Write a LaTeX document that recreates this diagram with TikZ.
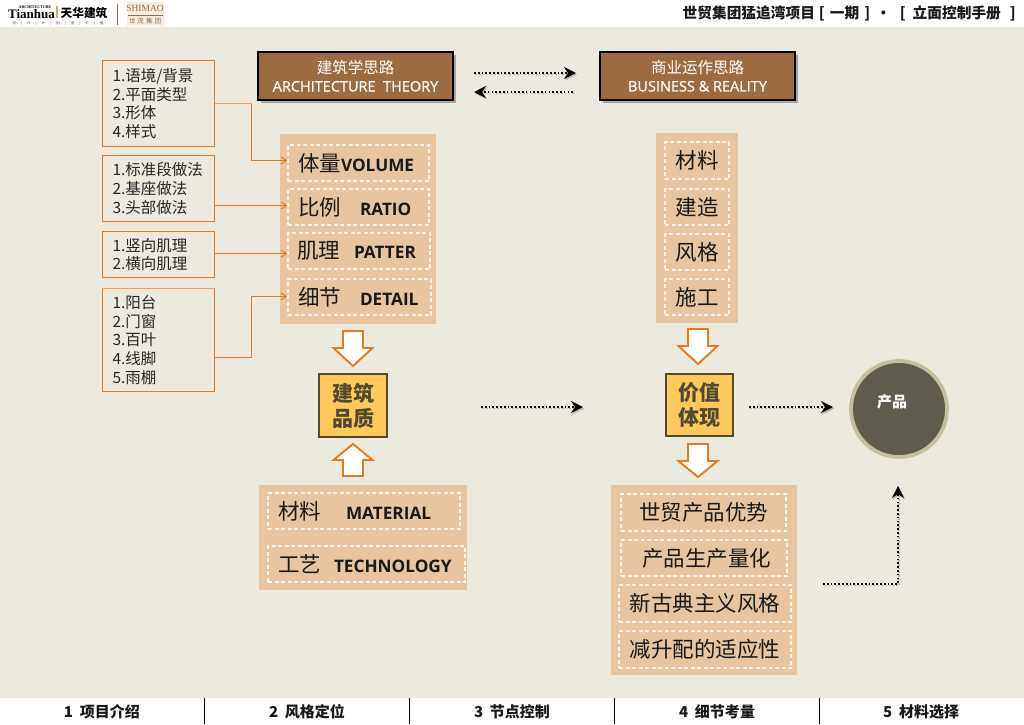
\documentclass[tikz,border=0pt]{standalone}
\usepackage{fontspec}
\setmainfont{Noto Sans CJK SC}
\newfontfamily\enf{Open Sans}
\newfontfamily\enm[FakeBold=0.6]{Open Sans}
\newfontfamily\tailf{Liberation Serif}
\usetikzlibrary{arrows.meta,calc}
\definecolor{bg}{HTML}{ECE9DF}
\definecolor{brownbox}{HTML}{9C6B42}
\definecolor{panel}{HTML}{E8C4A0}
\definecolor{orangeline}{HTML}{E67A1C}
\definecolor{paleline}{HTML}{F0A060}
\definecolor{gold}{HTML}{FFC85C}
\definecolor{olive}{HTML}{4F4A30}
\definecolor{disc}{HTML}{5F5B4E}
\definecolor{discring}{HTML}{C5BF9F}
\definecolor{dashwhite}{HTML}{FBF3EA}
\tikzset{
  x=1pt,y=-1pt,
  titlebox/.style={draw=black,line width=2.4pt,fill=brownbox,text=white,align=center,
     font=\fontsize{15.5}{19}\selectfont},
  listbox/.style={draw=orangeline,line width=1pt,fill=bg,text=black!85},
  panelbox/.style={fill=panel},
  dashbox/.style={draw=dashwhite,line width=1.7pt,dash pattern=on 4pt off 2.5pt,text=black!90},
  goldbox/.style={draw=olive,line width=2.8pt,fill=gold,text=olive,align=center,
     font=\bfseries\fontsize{21}{25}\selectfont},
  disc/.style={circle,draw=discring,line width=3.8pt,fill=disc,text=white,
     minimum size=96pt,inner sep=0pt},
  conn/.style={draw=orangeline,line width=1pt,-{Straight Barb[length=5pt,width=7pt]}},
  connpale/.style={draw=paleline,line width=1pt},
  dotconn/.style={draw=black,line width=1.7pt,dash pattern=on 1.7pt off 2.1pt,
     -{Stealth[length=12pt,width=12pt,inset=4pt]}},
  dotshadow/.style={draw=black!30,line width=1.7pt,dash pattern=on 1.7pt off 2.1pt,
     -{Stealth[length=12pt,width=12pt,inset=4pt]},transform canvas={xshift=1pt,yshift=-1.5pt}},
  blockarrow/.style={draw=orangeline,line width=1.9pt,fill=white,line join=miter},
  foot/.style={font=\bfseries\fontsize{15}{17}\selectfont,text=black!90},
  footsep/.style={draw=black,line width=1pt},
}
% style, name, x1,y1,x2,y2, text
\newcommand\boxat[7]{%
  \pgfmathsetmacro\bw{#5-(#3)}\pgfmathsetmacro\bh{#6-(#4)}%
  \node[#1,minimum width=\bw pt,minimum height=\bh pt,inner sep=0pt] (#2) at ({(#3+#5)/2},{(#4+#6)/2}) {#7};}
\newcommand\inset[2]{\makebox[\bw pt][l]{\hspace{#1pt}#2}}
\newcommand\lst[1]{\inset{10}{\parbox{100pt}{\raggedright\fontsize{15.5}{18.6}\selectfont #1}}}
\newcommand\zh[1]{{\fontsize{21.5}{24}\selectfont #1}}
\newcommand\en[1]{{\enf\bfseries\fontsize{17.2}{20}\selectfont #1}}
\newcommand\tl[1]{{\enm\fontsize{14.5}{17}\selectfont #1}}
\newcommand\downblock[4]{\draw[blockarrow] (#1-10,#2) -- (#1+10,#2) -- (#1+10,#3) -- (#1+19.5,#3) -- (#1,#4) -- (#1-19.5,#3) -- (#1-10,#3) -- cycle;}
\begin{document}
\begin{tikzpicture}
\useasboundingbox (0,0) rectangle (1024,724);
\fill[white] (0,0) rectangle (1024,724);
\fill[bg] (0,27) rectangle (1024,698);

% header logos
\node[inner sep=0pt,font=\tailf\bfseries\fontsize{13}{13}\selectfont] (tianhua) at (31.5,14.5) {Tianhua};
\node[inner sep=0pt,font=\tailf\bfseries\fontsize{4}{4}\selectfont] (archi) at (35,7.5) {ARCHITECTURE};
\fill[orangeline!70] (56,6) rectangle (57.5,18);
\node[inner sep=0pt,font=\bfseries\fontsize{11.7}{12}\selectfont] (thzh) at (84,12.5) {天华建筑};
\node[inner sep=0pt,font=\fontsize{3.6}{4}\selectfont,text=black!70] (thsub) at (58,23.5)
  {设\hspace{5pt}|\hspace{5pt}计\hspace{5pt}|\hspace{5pt}计\hspace{5pt}|\hspace{5pt}划\hspace{5pt}|\hspace{5pt}造\hspace{5pt}|\hspace{5pt}价\hspace{5pt}|\hspace{5pt}值};
\fill[brownbox] (117,4) rectangle (118,25);
\fill[brown!15] (127,2) rectangle (164,26);
\node[inner sep=0pt,font=\tailf\fontsize{9.5}{9}\selectfont,text=brownbox] (shimao) at (145,8.5) {SHIMAO};
\fill[brownbox] (128,14.5) rectangle (163,15.5);
\node[inner sep=0pt,font=\fontsize{6.5}{7}\selectfont,text=brownbox] (smzh) at (145,21) {世\hspace{2pt}茂\hspace{2pt}集\hspace{2pt}团};
\node[anchor=east,inner sep=0pt,font=\bfseries\fontsize{14.7}{16}\selectfont,text=black!90] (hdr) at (1016,13)
  {世贸集团猛追湾项目\hspace{4pt}[\hspace{5pt}一期\hspace{5pt}]\hspace{6pt}·\hspace{9pt}[\hspace{7pt}立面控制手册\hspace{9pt}]};

% title boxes
\fill[black!35] (261,55) rectangle (456,103);
\fill[black!35] (603,55) rectangle (798,103);
\boxat{titlebox}{arch}{258}{52}{453}{100}{建筑学思路\\[-1pt]\tl{ARCHITECTURE\ \ THEORY}}
\boxat{titlebox}{biz}{600}{52}{795}{100}{商业运作思路\\[-1pt]\tl{BUSINESS \& REALITY}}

% left lists
\boxat{listbox}{l1}{102.5}{60.5}{214.5}{146.5}{\lst{1.语境/背景\\2.平面类型\\3.形体\\4.样式}}
\boxat{listbox}{l2}{102.5}{155.5}{214.5}{221.5}{\lst{1.标准段做法\\2.基座做法\\3.头部做法}}
\boxat{listbox}{l3}{102.5}{231.5}{214.5}{277.5}{\lst{1.竖向肌理\\2.横向肌理}}
\boxat{listbox}{l4}{102.5}{288.5}{214.5}{391.5}{\lst{1.阳台\\2.门窗\\3.百叶\\4.线脚\\5.雨棚}}
\draw[connpale] (l4.north west) -- (l4.north east);

% panels
\boxat{panelbox}{panelA}{280}{134}{436}{324}{}
\boxat{panelbox}{panelB}{656}{133}{738}{323}{}
\boxat{panelbox}{panelC}{259}{485}{467}{590}{}
\boxat{panelbox}{panelD}{611}{485}{797}{675}{}

\boxat{dashbox}{volume}{288}{145}{429}{181}{\inset{10}{\zh{体量}\en{VOLUME}}}
\boxat{dashbox}{ratio}{288}{189}{429}{225}{\inset{10}{\zh{比例}\hspace{19pt}\en{RATIO}}}
\boxat{dashbox}{patter}{288}{233}{430}{269}{\inset{9}{\zh{肌理}\hspace{14pt}\en{PATTER}}}
\boxat{dashbox}{detail}{288}{279}{431}{315}{\inset{10}{\zh{细节}\hspace{19pt}\en{DETAIL}}}

\boxat{dashbox}{cai}{665}{142}{729}{179}{\zh{材料}}
\boxat{dashbox}{zao}{665}{189}{729}{225}{\zh{建造}}
\boxat{dashbox}{feng}{665}{234}{729}{270}{\zh{风格}}
\boxat{dashbox}{shi}{665}{279}{729}{315}{\zh{施工}}

\boxat{dashbox}{material}{268}{493}{460}{529}{\inset{10}{\zh{材料}\hspace{25pt}\en{MATERIAL}}}
\boxat{dashbox}{tech}{268}{546}{465}{582}{\inset{10}{\zh{工艺}\hspace{13pt}\en{TECHNOLOGY}}}

\boxat{dashbox}{d1}{621}{494}{786}{531}{\zh{世贸产品优势}}
\boxat{dashbox}{d2}{621}{540}{787}{576}{\hspace{5pt}\zh{产品生产量化}}
\boxat{dashbox}{d3}{619}{585}{791}{622}{\zh{新古典主义风格}}
\boxat{dashbox}{d4}{619}{631}{791}{668}{\zh{减升配的适应性}}

% list connectors
\draw[conn] (l1.east |- 0,103.5) -- (251.5,103.5) |- (volume.west |- 0,160.5);
\draw[connpale] (l1.east |- 0,103.5) -- (251.5,103.5);
\draw[conn] (l2.east |- 0,205.5) -- (ratio.west |- 0,205.5);
\draw[conn] (l3.east |- 0,253.5) -- (patter.west |- 0,253.5);
\draw[conn] (l4.east |- 0,357.5) -- (251.5,357.5) |- (detail.west |- 0,296.5);

% block arrows
\downblock{353}{331}{348}{366}
\downblock{353}{476}{460}{444}
\downblock{698}{329}{346}{364}
\downblock{698}{444}{461}{477}

% gold boxes and disc
\boxat{goldbox}{quality}{319}{374}{387}{437}{建筑\\品质}
\boxat{goldbox}{value}{666}{374}{733}{436}{价值\\体现}
\node[disc] (product) at (899,409) {};
\node[inner sep=0pt,text=white,font=\bfseries\fontsize{15}{16}\selectfont] (productlabel) at (892,402) {产品};

% dotted connectors
\coordinate (a1) at (474,73); \coordinate (a2) at (576,73);
\coordinate (b1) at (573,92); \coordinate (b2) at (474,92);
\coordinate (c1) at (481,407); \coordinate (c2) at (583,407);
\coordinate (e1) at (749,407); \coordinate (e2) at (833,407);
\coordinate (f1) at (823,584); \coordinate (f2) at (898,486);
\foreach \st in {dotshadow,dotconn}{
  \draw[\st] (a1) -- (a2);
  \draw[\st] (b1) -- (b2);
  \draw[\st] (c1) -- (c2);
  \draw[\st] (e1) -- (e2);
  \draw[\st] (f1) -| (f2);
}

% footer
\foreach \sx in {204.5,409.5,614.5,819.5}{\draw[footsep] (\sx,698) -- (\sx,724);}
\node[foot] (f-1) at (102,712) {1\ \ 项目介绍};
\node[foot] (f-2) at (307,712) {2\ \ 风格定位};
\node[foot] (f-3) at (512,712) {3\ \ 节点控制};
\node[foot] (f-4) at (717,712) {4\ \ 细节考量};
\node[foot] (f-5) at (921,712) {5\ \ 材料选择};
\end{tikzpicture}
\end{document}
